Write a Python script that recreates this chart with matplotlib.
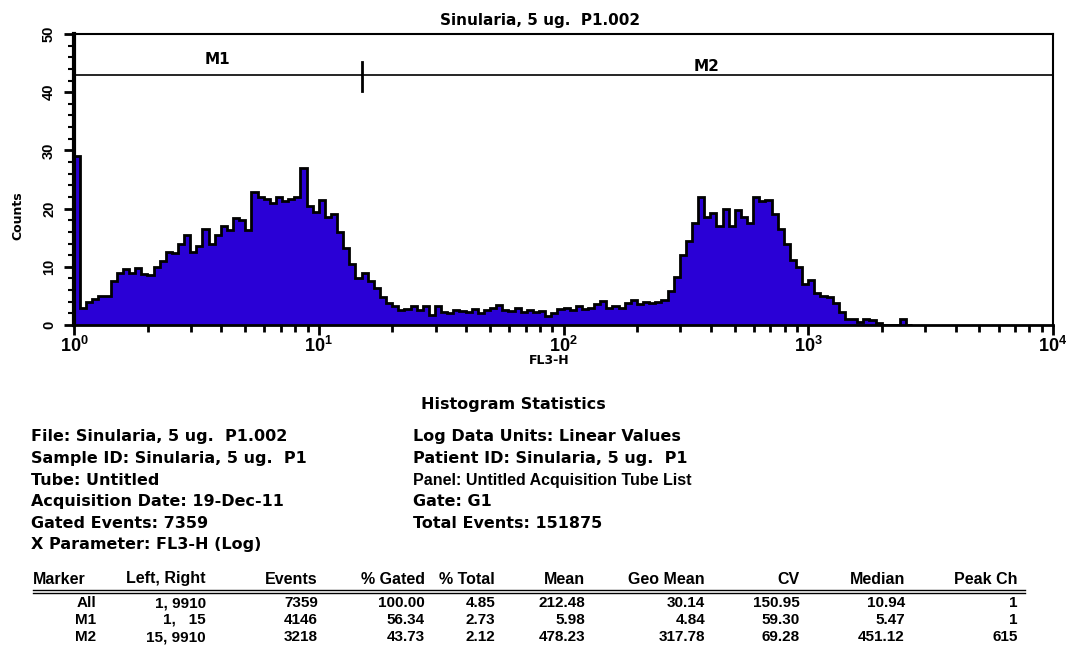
import matplotlib
matplotlib.use('Agg')

import matplotlib.pyplot as plt
import matplotlib.ticker as mticker
import numpy as np

plt.rcParams['font.family'] = ['Liberation Sans', 'DejaVu Sans']
plt.rcParams['font.weight'] = 'bold'
plt.rcParams['mathtext.fontset'] = 'custom'
plt.rcParams['mathtext.rm'] = 'Liberation Sans:bold'
plt.rcParams['mathtext.bf'] = 'Liberation Sans:bold'

WIDE = ['DejaVu Sans']

# histogram: 40 channels per decade, counts
bins_per_decade = 40
counts = [
    29, 3, 4, 4.5, 5, 5, 7.5, 9, 9.6, 9,
    9.8, 8.8, 8.6, 10, 11, 12.5, 12.4, 14, 15.5, 12.5,
    13.5, 16.5, 14, 15.5, 17, 16.4, 18.4, 18, 16.4, 22.8,
    22, 21.6, 21, 22, 21.3, 21.6, 22, 27, 20.5, 19.5,
    21.5, 18.5, 19, 16, 13.2, 10.5, 8, 8.9, 7.5, 6.3,
    4.8, 3.8, 3.2, 2.6, 2.8, 3.2, 2.6, 3.2, 1.8, 3.2,
    2.2, 2.0, 2.6, 2.4, 2.2, 2.8, 2.0, 2.5, 3.0, 3.4,
    2.6, 2.4, 2.9, 2.3, 2.6, 2.2, 2.4, 1.5, 2.0, 2.8,
    3.0, 2.6, 3.2, 2.8, 3.0, 3.6, 4.2, 3.0, 3.3, 3.0,
    3.8, 4.3, 3.6, 4.0, 3.8, 4.0, 4.3, 5.8, 8.3, 12,
    14.5, 17.5, 22, 18.5, 19.3, 17, 20, 17, 19.8, 18.5,
    17.5, 22, 21.3, 21.5, 19, 16.5, 14, 11.2, 10, 7,
    7.8, 5.5, 5, 4.8, 3.8, 2.2, 1.0, 1.0, 0.6, 1.0,
    0.8, 0.3, 0, 0, 0, 1.0, 0,
]

marker_names = ['M1', 'M2']
marker_left = [1, 15]
marker_right = [15, 9910]
marker_level = 43
marker_label_y = [45.6, 44.5]

title = 'Sinularia, 5 ug.  P1.002'

info_left = [
    'File: Sinularia, 5 ug.  P1.002',
    'Sample ID: Sinularia, 5 ug.  P1',
    'Tube: Untitled',
    'Acquisition Date: 19-Dec-11',
    'Gated Events: 7359',
    'X Parameter: FL3-H (Log)',
]
info_right = [
    'Log Data Units: Linear Values',
    'Patient ID: Sinularia, 5 ug.  P1',
    'Panel: Untitled Acquisition Tube List',
    'Gate: G1',
    'Total Events: 151875',
]

table_header = ['Marker', 'Left, Right', 'Events', '% Gated', '% Total',
                'Mean', 'Geo Mean', 'CV', 'Median', 'Peak Ch']
table_rows = [
    ['All', '1, 9910', '7359', '100.00', '4.85', '212.48', '30.14', '150.95', '10.94', '1'],
    ['M1', '1,   15', '4146', '56.34', '2.73', '5.98', '4.84', '59.30', '5.47', '1'],
    ['M2', '15, 9910', '3218', '43.73', '2.12', '478.23', '317.78', '69.28', '451.12', '615'],
]

W, H = 1067, 651
fig = plt.figure(figsize=(W / 100, H / 100), dpi=100)
ax = fig.add_axes([74 / W, 1 - 325 / H, 979 / W, 291 / H])

edges = 10 ** (np.arange(len(counts) + 1) / bins_per_decade)
ax.stairs(counts, edges, fill=True, color='#2a00d6', zorder=2)
ax.stairs(counts, edges, color='black', lw=2, zorder=3)

ax.set_xscale('log')
ax.set_xlim(1, 1e4)
ax.set_ylim(0, 50)

# marker bars M1 / M2
for name, lo, hi, ly in zip(marker_names, marker_left, marker_right, marker_label_y):
    ax.plot([lo, hi], [marker_level, marker_level], color='black', lw=1.2, zorder=4)
    ax.text(np.sqrt(lo * hi), ly, name, ha='center', va='center', fontsize=11,
            fontweight='bold', family=WIDE)
ax.plot([marker_right[0], marker_right[0]], [marker_level - 2.8, marker_level + 2.2],
        color='black', lw=2, zorder=4)

ax.xaxis.set_major_locator(mticker.LogLocator(base=10, numticks=10))
ax.xaxis.set_minor_locator(mticker.LogLocator(base=10, subs=np.arange(2, 10), numticks=10))
ax.xaxis.set_minor_formatter(mticker.NullFormatter())
ax.xaxis.set_major_formatter(mticker.FuncFormatter(lambda v, p: r'$10^{%d}$' % round(np.log10(v))))
ax.yaxis.set_major_locator(mticker.MultipleLocator(10))
ax.yaxis.set_minor_locator(mticker.MultipleLocator(2))
ax.tick_params(axis='x', which='major', length=7, width=2, labelsize=13, pad=1)
ax.tick_params(axis='x', which='minor', length=5, width=2)
ax.tick_params(axis='y', which='major', length=7, width=2, labelsize=10.5, pad=11)
ax.tick_params(axis='y', which='minor', length=4, width=1.5)
plt.setp(ax.get_yticklabels(), rotation=90, va='center', ha='center')

ax.spines['left'].set_linewidth(3)
ax.spines['bottom'].set_linewidth(2)
ax.spines['top'].set_linewidth(1.5)
ax.spines['right'].set_linewidth(1.5)

fig.text(549 / W, 1 - 361 / H, 'FL3-H', ha='center', va='center', fontsize=9, family=WIDE)
fig.text(18 / W, 1 - 216 / H, 'Counts', ha='center', va='center', rotation=90,
         fontsize=9, family=WIDE)
fig.text(540 / W, 1 - 20 / H, title, ha='center', va='center', fontsize=11, family=WIDE)

# text block below the plot
fig.text(513 / W, 1 - 405 / H, 'Histogram Statistics', ha='center', va='center',
         fontsize=11.5, family=WIDE)
for k, s in enumerate(info_left):
    fig.text(31 / W, 1 - (437 + 21.6 * k) / H, s, ha='left', va='center',
             fontsize=11.5, family=WIDE)
for k, s in enumerate(info_right):
    if s.startswith('Panel'):
        # the panel line is printed condensed in the report
        fig.text(413 / W, 1 - (437 + 21.6 * k) / H, s, ha='left', va='center', fontsize=11.5)
    else:
        fig.text(413 / W, 1 - (437 + 21.6 * k) / H, s, ha='left', va='center',
                 fontsize=11.5, family=WIDE)

col_right = [96, 206, 318, 425, 495, 585, 705, 800, 905, 1018]
for j, h in enumerate(table_header):
    if j == 0:
        fig.text(33 / W, 1 - 579 / H, h, ha='left', va='center', fontsize=11.5)
    else:
        fig.text(col_right[j] / W, 1 - 579 / H, h, ha='right', va='center', fontsize=11.5)
for r, row in enumerate(table_rows):
    for j, v in enumerate(row):
        fig.text(col_right[j] / W, 1 - (603 + 17 * r) / H, v, ha='right', va='center', fontsize=11)
for yy in (590, 593):
    fig.add_artist(plt.Line2D([33 / W, 1025 / W], [1 - yy / H, 1 - yy / H], color='black', lw=1))

fig.savefig('out.png', dpi=100)
